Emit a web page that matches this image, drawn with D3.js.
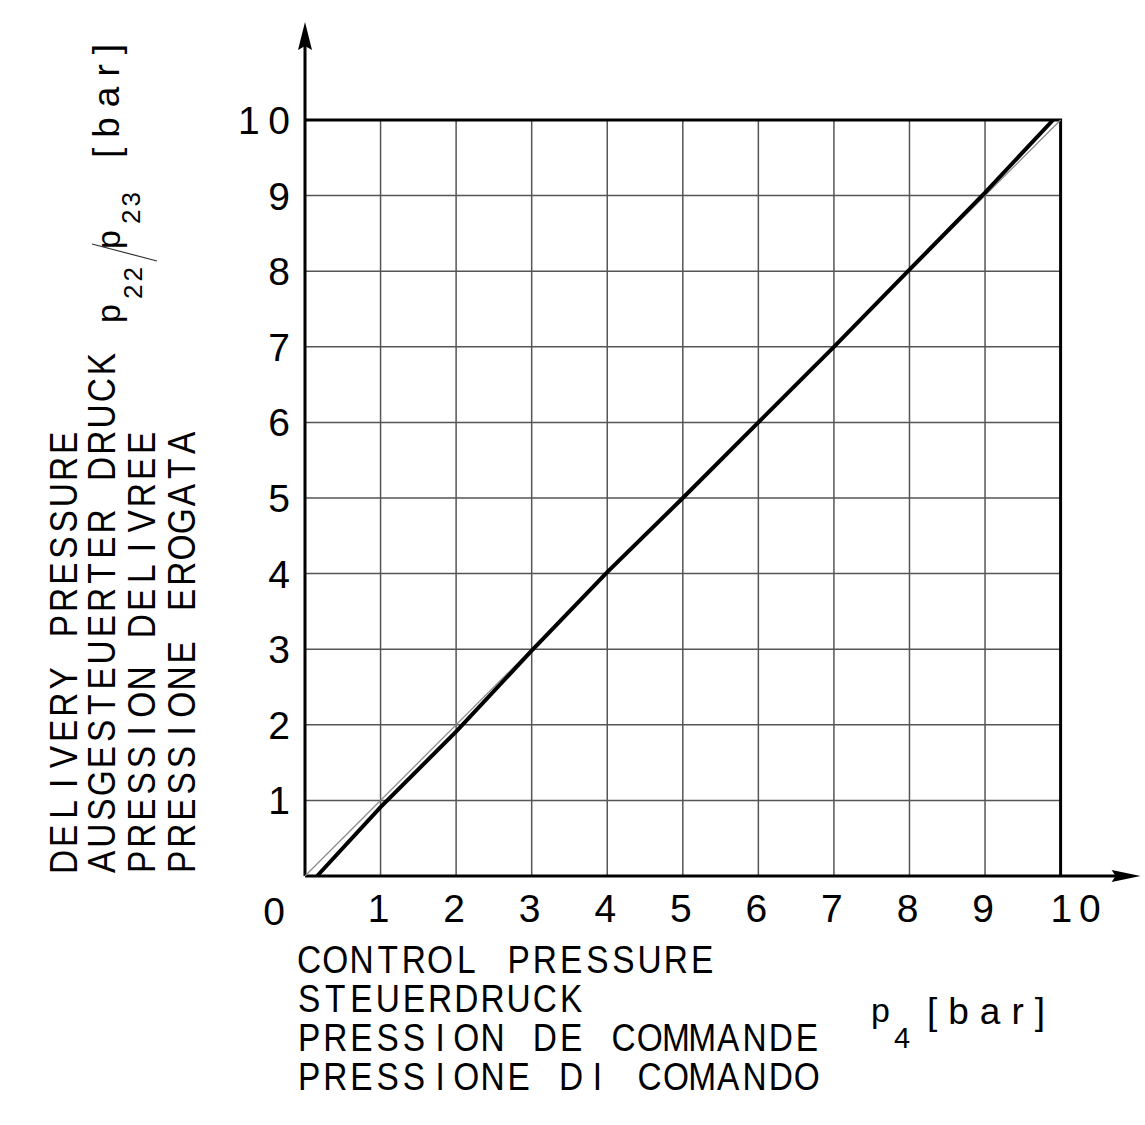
<!DOCTYPE html>
<html>
<head>
<meta charset="utf-8">
<script src="https://cdn.jsdelivr.net/npm/d3@7"></script>
<style>
  body { margin: 0; background: #fff; }
  .tick-label { font-family: "Liberation Sans", Arial, sans-serif; font-size: 39px; fill: #000; }
  .title { font-family: "Liberation Sans", Arial, sans-serif; font-size: 38px; fill: #000; }
  .unit { font-family: "Liberation Sans", Arial, sans-serif; fill: #000; }
</style>
</head>
<body>
<script>
// data
var xTicks = [0, 1, 2, 3, 4, 5, 6, 7, 8, 9, 10];
var yTicks = [1, 2, 3, 4, 5, 6, 7, 8, 9, 10];
var gridValues = [1, 2, 3, 4, 5, 6, 7, 8, 9];

// ideal 1:1 line
var idealX = [0, 10];
var idealY = [0, 10];

// measured characteristic
var controlP = [0.16, 1, 2, 3, 4, 5, 6, 7, 8, 9, 9.9];
var deliveryP = [0, 0.91, 1.91, 2.98, 4.02, 5, 6, 7, 8.02, 9.04, 10];

var xTitle = ["CONTROL PRESSURE", "STEUERDRUCK", "PRESSION DE COMMANDE", "PRESSIONE DI COMANDO"];
var yTitle = ["DELIVERY PRESSURE", "AUSGESTEUERTER DRUCK", "PRESSION DELIVREE", "PRESSIONE EROGATA"];

var svgWidth = 1145;
var svgHeight = 1125;

var margin = { top: 120, right: 84, bottom: 249, left: 305 };

var svg = d3.select("body")
  .append("svg")
  .attr("width", svgWidth)
  .attr("height", svgHeight);

var chartGroup = svg.append("g")
  .attr("transform", `translate(${margin.left}, ${margin.top})`);

var xScale = d3.scaleLinear().domain([0, 10]).range([0, 755.6]);
var yScale = d3.scaleLinear().domain([0, 10]).range([756, 0]);

// grid
chartGroup.selectAll("line.vgrid")
  .data(gridValues)
  .enter()
  .append("line")
  .attr("x1", d => xScale(d))
  .attr("x2", d => xScale(d))
  .attr("y1", yScale(0))
  .attr("y2", yScale(10))
  .attr("stroke", "#555")
  .attr("stroke-width", 1.5);

chartGroup.selectAll("line.hgrid")
  .data(gridValues)
  .enter()
  .append("line")
  .attr("x1", xScale(0))
  .attr("x2", xScale(10))
  .attr("y1", d => yScale(d))
  .attr("y2", d => yScale(d))
  .attr("stroke", "#555")
  .attr("stroke-width", 1.5);

// frame top + right
chartGroup.append("path")
  .attr("d", `M${xScale(0)},${yScale(10)} H${xScale(10)} V${yScale(0)}`)
  .attr("fill", "none")
  .attr("stroke", "#000")
  .attr("stroke-width", 3);

// axes with arrows
chartGroup.append("line")
  .attr("x1", xScale(0)).attr("y1", yScale(0))
  .attr("x2", xScale(0)).attr("y2", yScale(10) - 80)
  .attr("stroke", "#000").attr("stroke-width", 3);

chartGroup.append("path")
  .attr("d", `M${xScale(0)},${yScale(10) - 98} L${xScale(0) + 7},${yScale(10) - 70} L${xScale(0)},${yScale(10) - 74} L${xScale(0) - 7},${yScale(10) - 70} Z`)
  .attr("fill", "#000");

chartGroup.append("line")
  .attr("x1", xScale(0)).attr("y1", yScale(0))
  .attr("x2", xScale(10) + 60).attr("y2", yScale(0))
  .attr("stroke", "#000").attr("stroke-width", 3);

chartGroup.append("path")
  .attr("d", `M${xScale(10) + 80},${yScale(0)} L${xScale(10) + 51},${yScale(0) - 6} L${xScale(10) + 55},${yScale(0)} L${xScale(10) + 51},${yScale(0) + 6} Z`)
  .attr("fill", "#000");

// lines
var line = d3.line()
  .x(d => xScale(d[0]))
  .y(d => yScale(d[1]));

chartGroup.append("path")
  .datum(d3.zip(idealX, idealY))
  .attr("d", line)
  .attr("fill", "none")
  .attr("stroke", "#888")
  .attr("stroke-width", 1.2);

chartGroup.append("path")
  .datum(d3.zip(controlP, deliveryP))
  .attr("d", line)
  .attr("fill", "none")
  .attr("stroke", "#000")
  .attr("stroke-width", 4);

// tick labels
chartGroup.selectAll("text.xt")
  .data(xTicks)
  .enter()
  .append("text")
  .attr("class", "tick-label")
  .attr("text-anchor", "middle")
  .attr("x", d => xScale(d) + (d === 0 ? -31 : d === 10 ? 15 : -2))
  .attr("y", yScale(0) + 46)
  .attr("dy", d => d === 0 ? 3 : 0)
  .attr("textLength", d => d === 10 ? 50 : null)
  .attr("lengthAdjust", "spacing")
  .text(d => d);

chartGroup.selectAll("text.yt")
  .data(yTicks)
  .enter()
  .append("text")
  .attr("class", "tick-label")
  .attr("text-anchor", "end")
  .attr("x", -15)
  .attr("y", d => yScale(d))
  .attr("dy", "0.36em")
  .attr("textLength", d => d === 10 ? 52 : null)
  .attr("lengthAdjust", "spacing")
  .text(d => d);

// CAD style lettering: narrow glyphs centred on a fixed pitch
var pitch = 26.2;
var squeeze = 0.88;
function cellX(str, x0) {
  return str.split("").map((c, i) => ((x0 + (i + 0.5) * pitch) / squeeze).toFixed(1)).join(" ");
}

// x title
svg.selectAll("text.xtitle")
  .data(xTitle)
  .enter()
  .append("text")
  .attr("class", "title")
  .attr("text-anchor", "middle")
  .attr("transform", `scale(${squeeze},1)`)
  .attr("x", d => cellX(d, 296))
  .attr("y", (d, i) => 973 + i * 39)
  .text(d => d);

var xUnit = svg.append("g");
xUnit.append("text").attr("class", "unit").attr("font-size", 34)
  .attr("x", 871).attr("y", 1022).text("p");
xUnit.append("text").attr("class", "unit").attr("font-size", 29)
  .attr("x", 894).attr("y", 1048).text("4");
xUnit.append("text").attr("class", "unit").attr("font-size", 37)
  .attr("x", 927).attr("y", 1024)
  .attr("textLength", 118).attr("lengthAdjust", "spacing")
  .text("[bar]");

// y title (rotated)
var yGroup = svg.append("g").attr("transform", "rotate(-90)");

yGroup.selectAll("text.ytitle")
  .data(yTitle)
  .enter()
  .append("text")
  .attr("class", "title")
  .attr("text-anchor", "middle")
  .attr("transform", `scale(${squeeze},1)`)
  .attr("x", d => cellX(d, -875))
  .attr("y", (d, i) => [77, 115, 155, 195][i])
  .text(d => d);

yGroup.append("text").attr("class", "unit").attr("font-size", 34)
  .attr("x", -323).attr("y", 120).text("p");
yGroup.append("text").attr("class", "unit").attr("font-size", 26)
  .attr("x", -299).attr("y", 142)
  .attr("textLength", 32).attr("lengthAdjust", "spacing").text("22");
yGroup.append("text").attr("class", "unit").attr("font-size", 34)
  .attr("x", -249).attr("y", 120).text("p");
yGroup.append("text").attr("class", "unit").attr("font-size", 26)
  .attr("x", -224).attr("y", 140)
  .attr("textLength", 32).attr("lengthAdjust", "spacing").text("23");
yGroup.append("text").attr("class", "unit").attr("font-size", 37)
  .attr("x", -158).attr("y", 119)
  .attr("textLength", 114).attr("lengthAdjust", "spacing")
  .text("[bar]");

svg.append("line")
  .attr("x1", 92).attr("y1", 244)
  .attr("x2", 157).attr("y2", 261)
  .attr("stroke", "#333").attr("stroke-width", 1.2);
</script>
</body>
</html>
